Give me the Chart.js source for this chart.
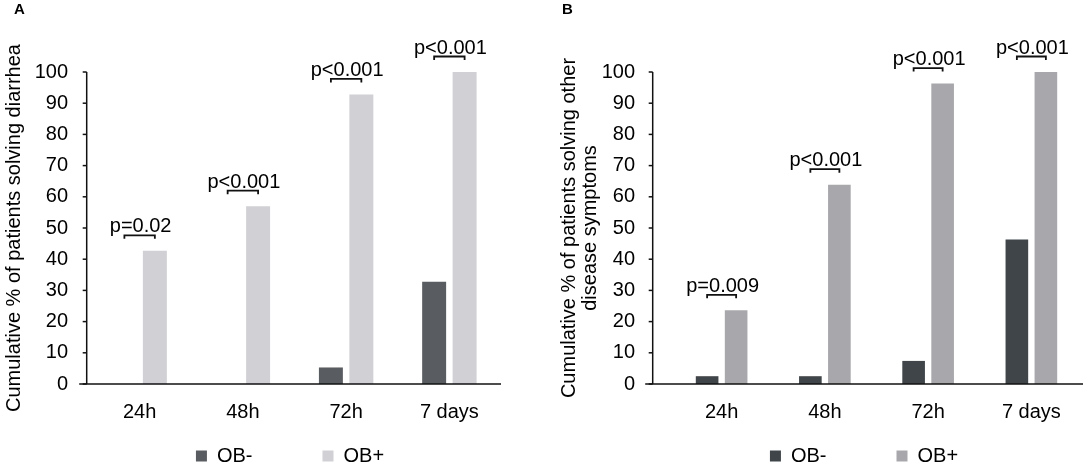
<!DOCTYPE html>
<html>
<head>
<meta charset="utf-8">
<script src="https://cdn.jsdelivr.net/npm/chart.js@4/dist/chart.umd.min.js"></script>
<style>
  html, body { margin: 0; padding: 0; background: #fff; }
  #wrap { position: relative; width: 1084px; height: 469px; }
  #cA { position: absolute; left: 0; top: 0; }
  #cB { position: absolute; left: 540px; top: 0; }
</style>
</head>
<body>
<div id="wrap">
  <canvas id="cA" width="540" height="469"></canvas>
  <canvas id="cB" width="544" height="469"></canvas>
</div>
<script>
// ---- data ----
const categories = ['24h', '48h', '72h', '7 days'];
const seriesNames = ['OB-', 'OB+'];
const diarrheaObNeg = [0, 0, 5.3, 32.8];
const diarrheaObPos = [42.7, 57.0, 92.8, 100];
const otherObNeg = [2.5, 2.5, 7.4, 46.3];
const otherObPos = [23.6, 63.9, 96.3, 100];
const pDiarrhea = ['p=0.02', 'p<0.001', 'p<0.001', 'p<0.001'];
const pOther = ['p=0.009', 'p<0.001', 'p<0.001', 'p<0.001'];
const yMin = 0, yMax = 100, yStep = 10;
const panelTitles = ['A', 'B'];
const yTitleA = 'Cumulative % of patients solving diarrhea';
const yTitleB = ['Cumulative % of patients solving other', 'disease symptoms'];

const FONT = "'Liberation Sans', Arial, Helvetica, sans-serif";

// Draws axes lines, ticks, brackets and p-values using chart scales
const annotPlugin = {
  id: 'annot',
  afterDraw(chart, args, o) {
    const { ctx, chartArea } = chart;
    const ys = chart.scales.y;
    const xAxis = chartArea.left - o.shift;
    const y0 = ys.getPixelForValue(yMin);
    const y100 = ys.getPixelForValue(yMax);
    ctx.save();
    ctx.strokeStyle = '#111';
    ctx.lineWidth = 1.5;
    // y axis
    ctx.beginPath();
    ctx.moveTo(xAxis, y100);
    ctx.lineTo(xAxis, y0);
    ctx.stroke();
    // y ticks
    ys.ticks.forEach(t => {
      const py = ys.getPixelForValue(t.value);
      ctx.beginPath();
      ctx.moveTo(xAxis - 4, py);
      ctx.lineTo(xAxis, py);
      ctx.stroke();
    });
    // x axis
    ctx.beginPath();
    ctx.moveTo(xAxis - 7.5, y0);
    ctx.lineTo(chartArea.right, y0);
    ctx.stroke();
    // brackets + p values
    const m0 = chart.getDatasetMeta(0), m1 = chart.getDatasetMeta(1);
    ctx.fillStyle = '#000';
    ctx.font = '20px ' + FONT;
    ctx.textAlign = 'center';
    ctx.textBaseline = 'alphabetic';
    ctx.lineWidth = 1.8;
    o.labels.forEach((txt, i) => {
      const b0 = m0.data[i], b1 = m1.data[i];
      const top = Math.min(b0.y, b1.y);
      const yb = top - o.gap;
      ctx.beginPath();
      ctx.moveTo(b0.x, yb + 3.5);
      ctx.lineTo(b0.x, yb);
      ctx.lineTo(b1.x, yb);
      ctx.lineTo(b1.x, yb + 3.5);
      ctx.stroke();
      ctx.fillText(txt, (b0.x + b1.x) / 2 + 1, yb - 3);
    });
    ctx.restore();
  }
};

// Positions title and legend boxes
const placer = {
  id: 'placer',
  afterLayout(chart, args, o) {
    const tb = chart.titleBlock;
    if (tb) { tb.left = o.titleX; }
    const lg = chart.legend;
    if (lg) {
      const pad = lg.options.labels.padding;
      lg.top = o.rowTop - pad;
      lg.bottom = chart.height;
      lg.height = lg.bottom - lg.top;
      lg.left = o.legendMid - 300;
      lg.right = o.legendMid + 300;
      lg.width = 600;
    }
  }
};

function makeChart(id, cfg) {
  return new Chart(document.getElementById(id), {
    type: 'bar',
    data: {
      labels: categories,
      datasets: [
        { label: seriesNames[0], data: cfg.neg, backgroundColor: cfg.colors[0], borderWidth: 0,
          categoryPercentage: cfg.catPct, barPercentage: cfg.barPct },
        { label: seriesNames[1], data: cfg.pos, backgroundColor: cfg.colors[1], borderWidth: 0,
          categoryPercentage: cfg.catPct, barPercentage: cfg.barPct }
      ]
    },
    options: {
      responsive: false,
      animation: false,
      devicePixelRatio: 1,
      layout: { padding: { left: 0, right: cfg.padRight, top: 0, bottom: 10 } },
      scales: {
        x: {
          grid: { display: false, drawTicks: false },
          border: { display: false },
          ticks: { color: '#000', font: { family: FONT, size: 20 }, padding: 16, maxRotation: 0, autoSkip: false },
          afterFit: s => { s.height = 45; }
        },
        y: {
          min: yMin, max: yMax,
          grid: { display: false, drawTicks: false },
          border: { display: false },
          ticks: { stepSize: yStep, color: '#000', font: { family: FONT, size: 20 }, padding: cfg.tickPad },
          title: {
            display: true, text: cfg.yTitle, color: '#000',
            font: { family: FONT, size: 20, lineHeight: cfg.titleLH },
            padding: { top: cfg.titlePadTop, bottom: 0 }
          },
          afterFit: s => { s.width = cfg.yWidth; }
        }
      },
      plugins: {
        title: {
          display: true, text: cfg.panel, align: 'start', color: '#000',
          font: { family: FONT, size: 15, weight: 'bold', lineHeight: 1.2 },
          padding: { top: 1, bottom: 53 }
        },
        legend: {
          display: true, position: 'bottom', maxHeight: 30,
          labels: { color: '#000', font: { family: FONT, size: 20 }, boxWidth: 11, boxHeight: 11, padding: 70 }
        },
        tooltip: { enabled: false },
        annot: { labels: cfg.pLabels, gap: 15.5, shift: cfg.shift },
        placer: { titleX: cfg.titleX, rowTop: 446, legendMid: cfg.legendMid }
      }
    },
    plugins: [annotPlugin, placer]
  });
}

makeChart('cA', {
  neg: diarrheaObNeg, pos: diarrheaObPos, colors: ['#595d61', '#d0d0d5'],
  catPct: 0.59, barPct: 0.787, padRight: 39, tickPad: 20, yWidth: 88,
  yTitle: yTitleA, titleLH: 1.2, titlePadTop: 2, panel: panelTitles[0],
  pLabels: pDiarrhea, shift: 1.3, titleX: 14, legendMid: 290
});

makeChart('cB', {
  neg: otherObNeg, pos: otherObPos, colors: ['#3f4548', '#a8a8ac'],
  catPct: 0.562, barPct: 0.78, padRight: 1, tickPad: 35, yWidth: 130,
  yTitle: yTitleB, titleLH: 1.05, titlePadTop: 18.5, panel: panelTitles[1],
  pLabels: pOther, shift: 17.3, titleX: 22, legendMid: 324
});
</script>
</body>
</html>
